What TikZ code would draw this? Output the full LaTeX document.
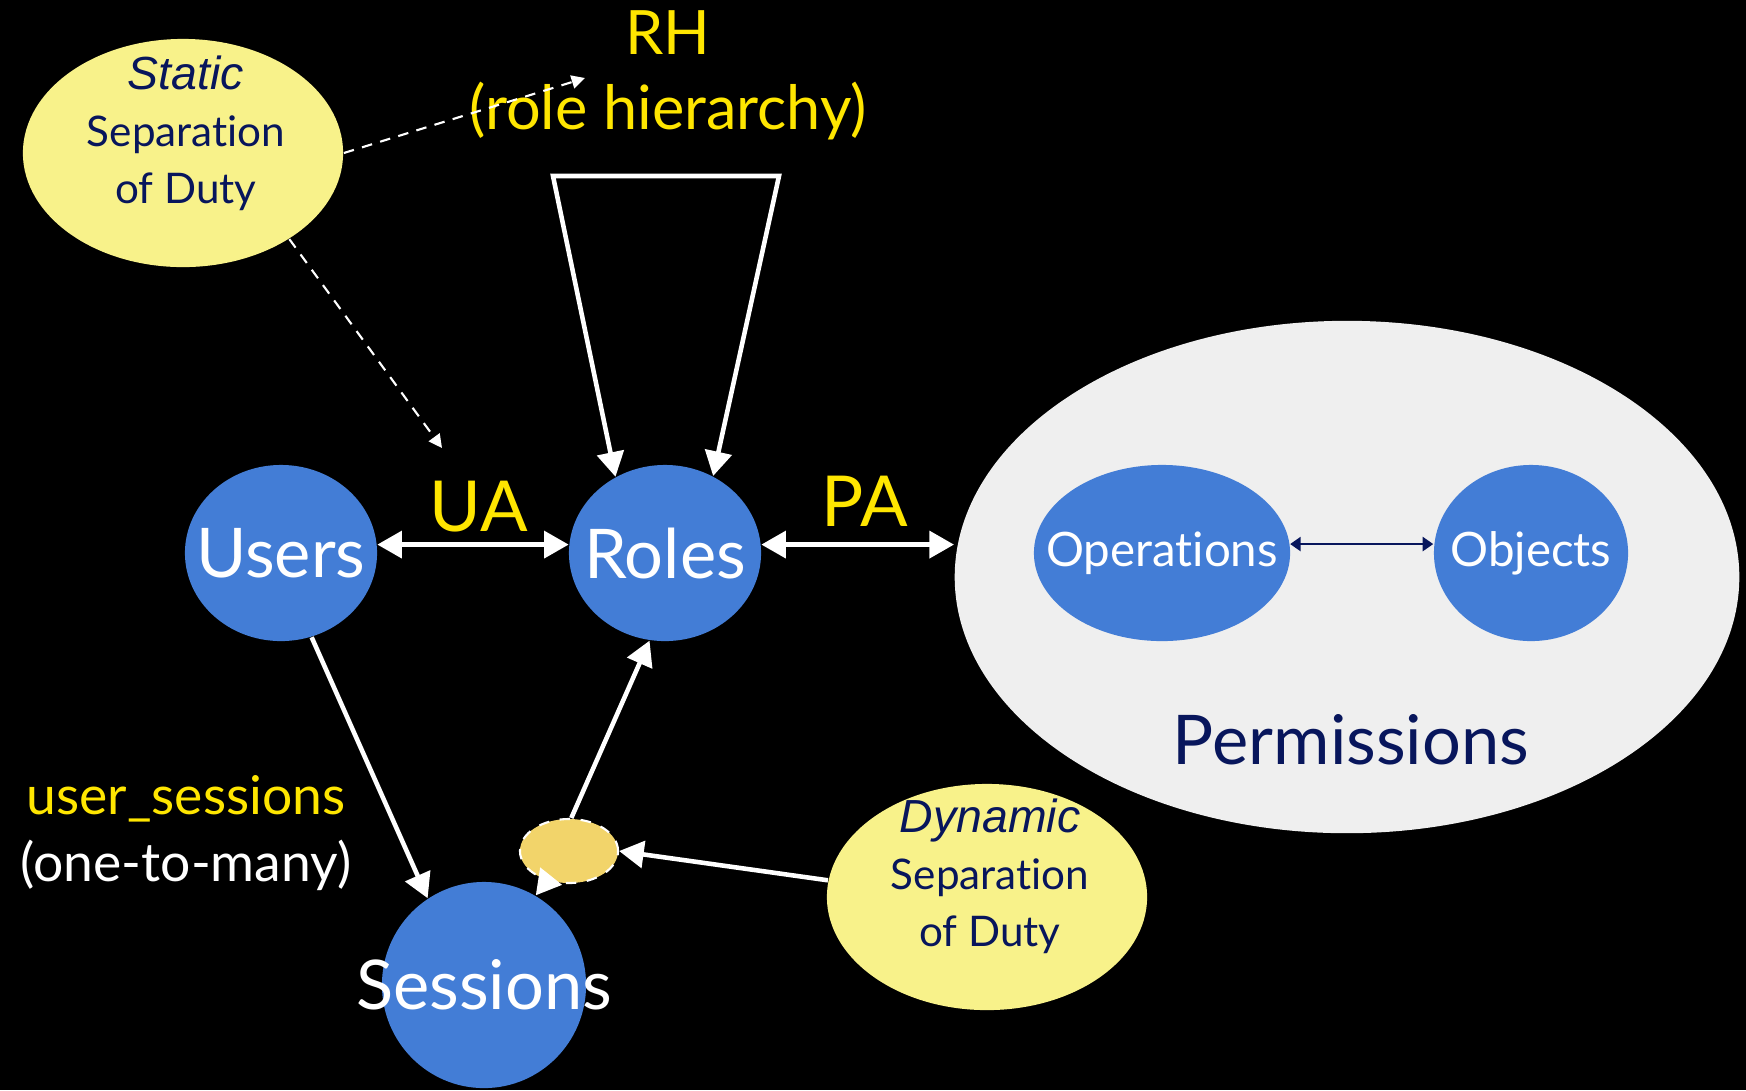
\documentclass[tikz,border=0pt]{standalone}
\usepackage{fontspec}
\setmainfont{Lato}[Ligatures=NoCommon]
\newfontfamily\italfont{Liberation Sans}
\usetikzlibrary{shapes.geometric,arrows.meta}
\definecolor{blobblue}{RGB}{67,125,214}
\definecolor{labyellow}{RGB}{255,230,0}
\definecolor{paleyellow}{RGB}{248,242,138}
\definecolor{navy}{RGB}{8,22,92}
\definecolor{permgrey}{RGB}{239,239,239}
\definecolor{gold}{RGB}{242,212,106}
\tikzset{
  oval/.style 2 args={ellipse, minimum width=#1*0.02cm, minimum height=#2*0.02cm, inner sep=0pt},
  blob/.style={fill=blobblue, draw=none},
  note/.style={fill=paleyellow, draw=none},
  bigword/.style={text=white, font=\fontsize{19.5}{22}\selectfont},
  midword/.style={text=white, font=\fontsize{13.5}{16}\selectfont},
  relword/.style={text=labyellow, font=\fontsize{20}{23}\selectfont},
  notetext/.style={text=navy, align=center, font=\fontsize{12}{16.2}\selectfont},
  link/.style={draw=white, line width=1.3pt, {Triangle[length=7pt,width=7.6pt]}-{Triangle[length=7pt,width=7.6pt]}},
  onelink/.style={draw=white, line width=1.3pt, -{Triangle[length=7pt,width=7.6pt]}},
  hint/.style={draw=white, line width=0.6pt, dash pattern=on 3pt off 2.4pt, -{Triangle[length=3.8pt,width=3.8pt]}},
}
\begin{document}
\begin{tikzpicture}[x=0.01cm, y=-0.01cm]
  \useasboundingbox (0,0) rectangle (1746,1090);
  \fill[black] (0,0) rectangle (1746,1090);

  % permission space with its two parts
  \node[oval={392}{256}, fill=permgrey] (perm) at (1347,577) {};
  \node[text=navy, font=\fontsize{19.5}{22}\selectfont] (perm-t) at (1351,740) {Permissions};
  \node[oval={128}{88}, blob] (ops) at (1162,553) {};
  \node[midword] (ops-t) at (ops) {Operations};
  \node[oval={97}{88}, blob] (objs) at (1531,553) {};
  \node[midword] (objs-t) at (objs) {Objects};

  % core entities
  \node[oval={96}{88}, blob] (users) at (281,553) {};
  \node[bigword] (users-t) at (users) {Users};
  \node[oval={96}{88}, blob] (roles) at (665,553) {};
  \node[bigword] (roles-t) at (roles) {Roles};
  \node[oval={102}{103}, blob] (sess) at (484,985) {};
  \node[bigword] (sess-t) at (sess) {Sessions};

  % session-role activation point
  \node[oval={49}{32}, fill=gold, draw=white, line width=0.6pt, dashed] (act) at (569,851) {};

  % constraint notes
  \node[oval={160}{114}, note] (ssd) at (183,153) {};
  \node[notetext] (ssd-t) at (186,133) {{\italfont\itshape\fontsize{13.2}{16.2}\selectfont Static}\\Separation\\of Duty};
  \node[oval={160}{113}, note] (dsd) at (987,897) {};
  \node[notetext] (dsd-t) at (990,876) {{\italfont\itshape\fontsize{13.2}{16.2}\selectfont Dynamic}\\Separation\\of Duty};

  % relation labels
  \node[relword] (ua) at (479,507) {UA};
  \node[relword] (pa) at (865,501) {PA};
  \node[text=labyellow, font=\fontsize{17.4}{20}\selectfont] (rh) at (668,33) {RH};
  \node[text=labyellow, font=\fontsize{17.4}{20}\selectfont] (rh-sub) at (668,111) {(role hierarchy)};
  \node[text=labyellow, font=\fontsize{15.2}{18}\selectfont] (us) at (186,799) {user\_sessions};
  \node[text=white, font=\fontsize{15.2}{18}\selectfont] (us-sub) at (186,865) {(one-to-many)};

  % relations
  \draw[link] (users.5) -- (roles.175);
  \draw[link] (roles.5) -- (roles.5 -| perm.west);
  \draw[draw=navy, line width=0.65pt, {Triangle[length=3pt,width=4pt]}-{Triangle[length=3pt,width=4pt]}] (ops.4) -- (ops.4 -| objs.west);
  \coordinate (rhA) at (553,176);
  \coordinate (rhB) at (779,176);
  \draw[link] (roles.123) -- (rhA) -- (rhB) -- (roles.58);
  \draw[onelink] (users.-70) -- (sess.123);
  \draw[onelink] (act.86) -- (roles.-100);
  \draw[onelink] (act.-126) -- (sess.60);
  \draw[onelink] (dsd.174) -- (act.east);

  % static constraint hints
  \coordinate (ssdA) at (585,78);
  \coordinate (ssdB) at (442,448);
  \draw[hint] (ssd.east) -- (ssdA);
  \draw[hint] (ssd.-39) -- (ssdB);
\end{tikzpicture}
\end{document}
